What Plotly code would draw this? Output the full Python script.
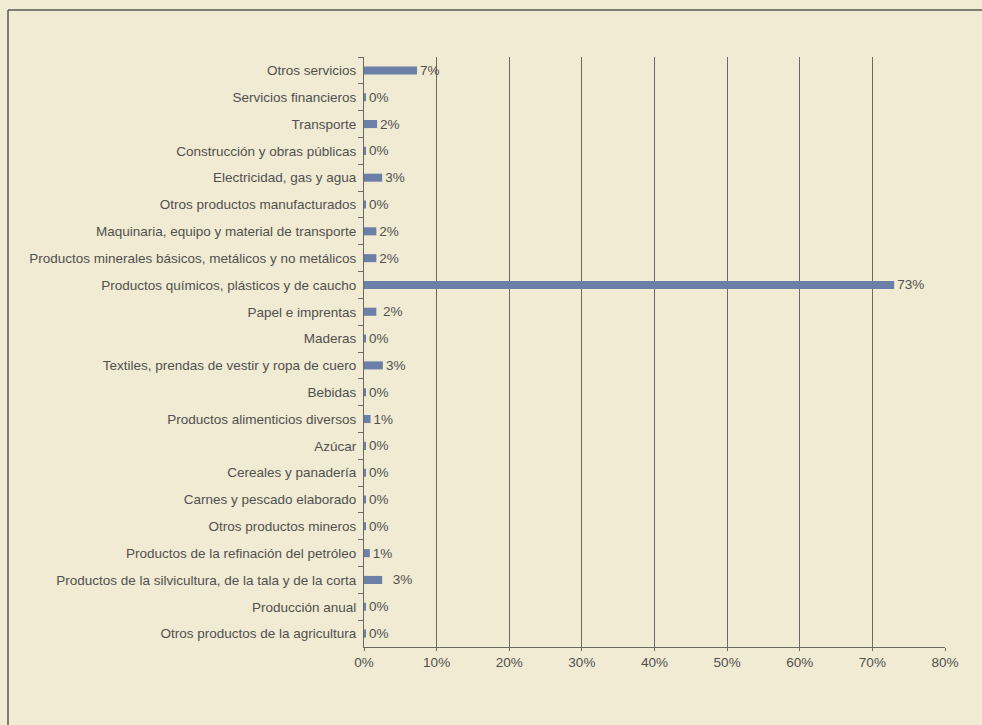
import plotly.graph_objects as go

categories = [
    "Otros servicios",
    "Servicios financieros",
    "Transporte",
    "Construcción y obras públicas",
    "Electricidad, gas y agua",
    "Otros productos manufacturados",
    "Maquinaria, equipo y material de transporte",
    "Productos minerales básicos, metálicos y no metálicos",
    "Productos químicos, plásticos y de caucho",
    "Papel e imprentas",
    "Maderas",
    "Textiles, prendas de vestir y ropa de cuero",
    "Bebidas",
    "Productos alimenticios diversos",
    "Azúcar",
    "Cereales y panadería",
    "Carnes y pescado elaborado",
    "Otros productos mineros",
    "Productos de la refinación del petróleo",
    "Productos de la silvicultura, de la tala y de la corta",
    "Producción anual",
    "Otros productos de la agricultura",
]
values = [7.3, 0.2, 1.8, 0.2, 2.5, 0.2, 1.7, 1.7, 73.0, 1.7, 0.2, 2.6, 0.2, 0.9,
          0.2, 0.2, 0.2, 0.2, 0.8, 2.5, 0.2, 0.2]
labels = ["7%", "0%", "2%", "0%", "3%", "0%", "2%", "2%", "73%", " 2%", "0%", "3%",
          "0%", "1%", "0%", "0%", "0%", "0%", "1%", "  3%", "0%", "0%"]
x_ticks = [0, 10, 20, 30, 40, 50, 60, 70, 80]
x_tick_labels = ["0%", "10%", "20%", "30%", "40%", "50%", "60%", "70%", "80%"]

BG = "#f0ebd2"
TXT = "#505050"
LINE = "#6a6a62"
FONT = "Liberation Sans, Arial, sans-serif"
FS = 13.5

fig = go.Figure(go.Bar(
    x=values, y=categories, orientation="h",
    marker=dict(color="#6b7fa7", line=dict(width=0)),
    text=labels, textposition="outside", cliponaxis=False,
    constraintext="none",
    textfont=dict(family=FONT, size=FS, color=TXT),
    width=0.3,
))

W, H = 982, 725
L, R, T, B = 364, 37, 57, 78
pw, ph = W - L - R, H - T - B

def px(x):
    return (x - L) / pw

def py(y):
    return 1 - (y - T) / ph

# outer frame: left and top edges only (the rest runs off the page)
fig.add_shape(type="line", xref="paper", yref="paper",
              x0=px(8), x1=px(8), y0=py(10), y1=py(H),
              line=dict(color="#5a5a52", width=1.5), layer="below")
fig.add_shape(type="line", xref="paper", yref="paper",
              x0=px(8), x1=px(W), y0=py(10), y1=py(10),
              line=dict(color="#5a5a52", width=1.5), layer="below")

fig.update_layout(
    width=W, height=H,
    margin=dict(l=L, r=R, t=T, b=B),
    paper_bgcolor=BG, plot_bgcolor=BG,
    font=dict(family=FONT, size=FS, color=TXT),
    showlegend=False,
    xaxis=dict(
        range=[0, 80], tickvals=x_ticks, ticktext=x_tick_labels,
        showgrid=True, gridcolor=LINE, gridwidth=1,
        showline=True, linecolor=LINE, linewidth=1,
        ticks="outside", ticklen=3, tickcolor=LINE,
        zeroline=False, tickfont=dict(size=FS, color=TXT), fixedrange=True,
    ),
    yaxis=dict(
        autorange="reversed", showgrid=False,
        showline=True, linecolor=LINE, linewidth=1,
        ticks="outside", ticklen=5, tickcolor=LINE, tickson="boundaries",
        tickfont=dict(size=FS, color=TXT), ticklabelstandoff=4, fixedrange=True,
    ),
)

fig.write_html(
    "out.html",
    config={"displayModeBar": False},
    post_script="document.body.style.margin='0';document.body.style.overflow='hidden';"
                "document.body.style.background='" + BG + "';",
)
